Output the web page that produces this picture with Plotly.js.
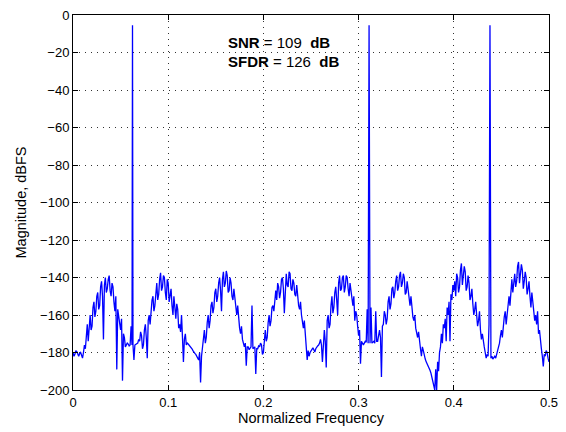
<!DOCTYPE html>
<html><head><meta charset="utf-8">
<script src="https://cdn.plot.ly/plotly-3.0.1.min.js"></script>
<style>html,body{margin:0;padding:0;background:#fff}#chart{width:566px;height:432px}</style>
</head><body><div id="chart"></div>
<script>
const freq = [
0.000,0.001,0.002,0.003,0.004,0.005,0.006,0.007,0.008,0.009,0.010,0.011,0.012,0.013,0.014,0.015,0.016,0.017,0.018,0.019,
0.020,0.021,0.022,0.023,0.024,0.025,0.026,0.027,0.028,0.029,0.030,0.031,0.032,0.033,0.034,0.035,0.036,0.037,0.038,0.039,
0.040,0.041,0.042,0.043,0.044,0.045,0.046,0.047,0.048,0.049,0.050,0.051,0.052,0.053,0.054,0.055,0.056,0.057,0.058,0.059,
0.060,0.061,0.062,0.0625,0.063,0.064,0.065,0.066,0.067,0.068,0.069,0.070,0.071,0.072,0.073,0.074,0.075,0.076,0.077,0.078,0.079,
0.080,0.081,0.082,0.083,0.084,0.085,0.086,0.087,0.088,0.089,0.090,0.091,0.092,0.093,0.094,0.095,0.096,0.097,0.098,0.099,
0.100,0.101,0.102,0.103,0.104,0.105,0.106,0.107,0.108,0.109,0.110,0.111,0.112,0.113,0.114,0.115,0.116,0.117,0.118,0.119,
0.120,0.121,0.122,0.123,0.124,0.125,0.126,0.127,0.128,0.129,0.130,0.131,0.132,0.133,0.134,0.135,0.136,0.137,0.138,0.139,
0.140,0.141,0.142,0.143,0.144,0.145,0.146,0.147,0.148,0.149,0.150,0.151,0.152,0.153,0.154,0.155,0.156,0.157,0.158,0.159,
0.160,0.161,0.162,0.163,0.164,0.165,0.166,0.167,0.168,0.169,0.170,0.171,0.172,0.173,0.174,0.175,0.176,0.177,0.178,0.179,
0.180,0.181,0.182,0.183,0.184,0.185,0.186,0.187,0.188,0.189,0.190,0.191,0.192,0.193,0.194,0.195,0.196,0.197,0.198,0.199,
0.200,0.201,0.202,0.203,0.204,0.205,0.206,0.207,0.208,0.209,0.210,0.211,0.212,0.213,0.214,0.215,0.216,0.217,0.218,0.219,
0.220,0.221,0.222,0.223,0.224,0.225,0.226,0.227,0.228,0.229,0.230,0.231,0.232,0.233,0.234,0.235,0.236,0.237,0.238,0.239,
0.240,0.241,0.242,0.243,0.244,0.245,0.246,0.247,0.248,0.249,0.250,0.251,0.252,0.253,0.254,0.255,0.256,0.257,0.258,0.259,
0.260,0.261,0.262,0.263,0.264,0.265,0.266,0.267,0.268,0.269,0.270,0.271,0.272,0.273,0.274,0.275,0.276,0.277,0.278,0.279,
0.280,0.281,0.282,0.283,0.284,0.285,0.286,0.287,0.288,0.289,0.290,0.291,0.292,0.293,0.294,0.295,0.296,0.297,0.298,0.299,
0.300,0.301,0.302,0.303,0.304,0.305,0.306,0.307,0.308,0.309,0.310,0.311,0.312,0.313,0.314,0.315,0.316,0.317,0.318,0.319,
0.320,0.321,0.322,0.323,0.324,0.325,0.326,0.327,0.328,0.329,0.330,0.331,0.332,0.333,0.334,0.335,0.336,0.337,0.338,0.339,
0.340,0.341,0.342,0.343,0.344,0.345,0.346,0.347,0.348,0.349,0.350,0.351,0.352,0.353,0.354,0.355,0.356,0.357,0.358,0.359,
0.360,0.361,0.362,0.363,0.364,0.365,0.366,0.367,0.368,0.369,0.370,0.371,0.372,0.373,0.374,0.375,0.376,0.377,0.378,0.379,
0.380,0.381,0.382,0.383,0.384,0.385,0.386,0.387,0.388,0.389,0.390,0.391,0.392,0.393,0.394,0.395,0.396,0.397,0.398,0.399,
0.400,0.401,0.402,0.403,0.404,0.405,0.406,0.407,0.408,0.409,0.410,0.411,0.412,0.413,0.414,0.415,0.416,0.417,0.418,0.419,
0.420,0.421,0.422,0.423,0.424,0.425,0.426,0.427,0.428,0.429,0.430,0.431,0.432,0.433,0.434,0.435,0.436,0.437,0.438,0.439,
0.440,0.441,0.442,0.443,0.444,0.445,0.446,0.447,0.448,0.449,0.450,0.451,0.452,0.453,0.454,0.455,0.456,0.457,0.458,0.459,
0.460,0.461,0.462,0.463,0.464,0.465,0.466,0.467,0.468,0.469,0.470,0.471,0.472,0.473,0.474,0.475,0.476,0.477,0.478,0.479,
0.480,0.481,0.482,0.483,0.484,0.485,0.486,0.487,0.488,0.489,0.490,0.491,0.492,0.493,0.494,0.495,0.496,0.497,0.498,0.499,
0.500];
const magnitude = [
-180,-182,-181,-179,-179.5,-181,-182,-180.5,-180,-181.5,-183,-180,-176,-178,-170,-165,-174,-163,-160,-168,
-166,-156,-153,-161,-158,-150,-148,-157,-155,-145,-142,-150,-173,-144,-140,-148,-146,-141,-139,-147,
-150,-143,-145,-153,-158,-150,-189,-157,-160,-165,-168,-162,-195,-170,-172,-177,-176,-175,-175.5,-176.5,
-176,-166,-176,-5.5,-176,-184,-176,-175.5,-175,-175,-173,-174,-169,-171,-178,-176,-168,-165,-172,-183,-163,
-160,-165,-156,-152,-150,-158,-155,-146,-143,-152,-149,-141,-137.5,-147,-145,-139,-140,-148,-152,-141,
-143,-153,-150,-146,-155,-160,-150,-158,-162,-154,-157,-167,-165,-169,-160,-172,-185,-173,-170,-176,
-175,-175.5,-176,-177,-177.5,-178,-179,-180,-180.5,-181,-182,-183,-184,-180,-196,-182,-178,-172,-168,-175,
-172,-164,-160,-167,-163,-155,-153,-159,-156,-148,-146,-153,-150,-143,-140,-147,-158,-141,-137,-145,
-143,-136.5,-139,-148,-147,-140,-143,-150,-152,-146,-150,-156,-160,-155,-163,-167,-170,-166,-173,-176,
-177,-175,-187,-177,-177,-178.5,-178,-177,-155,-178,-177.5,-177,-191.5,-178,-178,-176.5,-177,-175,-176,-181,
-180,-172,-168,-174,-172,-164,-160,-166,-163,-156,-155,-158,-150,-147,-152,-143,-145,-151,-148,-141,
-140,-146,-159,-142,-138,-144,-145,-137,-138,-146,-147,-141,-143,-149,-150,-144,-151,-155,-157,-153,
-160,-165,-167,-163,-172,-176,-184,-179,-182,-180,-179,-178,-177.5,-178.5,-179.7,-178,-177,-176.5,-176,-175,
-173,-176,-185,-171,-168,-174,-188,-163,-160,-167,-165,-155,-150,-159,-156,-148,-145,-152,-160,-143,
-139,-147,-146,-140,-139,-148,-145,-139,-140,-146,-150,-143,-147,-152,-155,-150,-163,-158,-160,-166,
-171,-168,-186,-174,-175,-176,-175,-174,-174.5,-157,-175,-5.5,-175,-156,-175,-174.5,-174,-175,-158,-174,
-174,-171,-168,-172,-193,-166,-165,-158,-160,-165,-162,-153,-150,-157,-154,-146,-145,-151,-148,-142,
-139,-147,-145,-139,-137,-145,-143,-138,-140,-149,-148,-142,-146,-152,-155,-150,-158,-161,-163,-160,
-167,-170,-172,-169,-175,-178,-182,-177,-179,-182,-183.5,-185,-186,-187,-188,-189.5,-191,-193,-195,-197,
-200,-189,-200,-185,-190,-180,-177,-170,-175,-165,-167,-162,-174,-156,-160,-153,-174,-149,-152,-144,
-147,-142,-150,-138,-140,-148,-145,-136,-132.5,-144,-140,-134,-137,-147,-145,-139,-143,-152,-150,-146,
-154,-160,-157,-153,-160,-166,-163,-158,-168,-173,-170,-175,-177,-180,-183,-181,-182,-165,-5.5,-183,
-182,-183.5,-183,-182,-183,-181,-180,-177,-175,-171,-168,-172,-165,-161,-158,-165,-160,-153,-150,-155,
-145,-141,-148,-143,-138,-145,-142,-134,-131.7,-143,-139,-133,-136,-146,-142,-137,-140,-149,-146,-142,
-150,-156,-148,-153,-155,-163,-160,-165,-158,-170,-168,-175,-178,-182,-187.5,-181,-182,-179,-180,-183,
-185];
const snrText = '<b>SNR</b> = 109  <b>dB</b>';
const sfdrText = '<b>SFDR</b> = 126  <b>dB</b>';
const xTicks = [0, 0.1, 0.2, 0.3, 0.4, 0.5];
const yTicks = [-200, -180, -160, -140, -120, -100, -80, -60, -40, -20, 0];

const fam = 'Liberation Sans, Arial, Helvetica, sans-serif';
const tickFont = {family: fam, size: 13, color: '#000'};
const titleFont = {family: fam, size: 14.5, color: '#000'};
const annFont = {family: fam, size: 15, color: '#000'};
const trace = {x: freq, y: magnitude, type: 'scatter', mode: 'lines',
  line: {color: '#0000ff', width: 1.3}, hoverinfo: 'skip'};
const axisCommon = {showline: true, linecolor: '#000', linewidth: 1, mirror: 'ticks',
  ticks: 'inside', ticklen: 5, tickcolor: '#000', showgrid: true, gridcolor: '#333',
  griddash: '1px,5px', gridwidth: 1, zeroline: false, tickfont: tickFont};
const layout = {
  width: 566, height: 432, margin: {l: 73, r: 17, t: 15, b: 42},
  paper_bgcolor: '#fff', plot_bgcolor: '#fff', showlegend: false, font: tickFont,
  xaxis: Object.assign({}, axisCommon, {range: [0, 0.5], tickvals: xTicks,
    ticktext: xTicks.map(String), title: {text: 'Normalized Frequency', font: titleFont, standoff: 3}}),
  yaxis: Object.assign({}, axisCommon, {range: [-200, 0], tickvals: yTicks,
    title: {text: 'Magnitude, dBFS', font: titleFont, standoff: 10}}),
  annotations: [
    {x: 0.1607, y: -14.9, xref: 'x', yref: 'y', text: snrText, showarrow: false, xanchor: 'left', yanchor: 'middle', font: annFont},
    {x: 0.1607, y: -24.9, xref: 'x', yref: 'y', text: sfdrText, showarrow: false, xanchor: 'left', yanchor: 'middle', font: annFont}
  ]
};
Plotly.newPlot('chart', [trace], layout, {staticPlot: true, displayModeBar: false});
</script></body></html>
